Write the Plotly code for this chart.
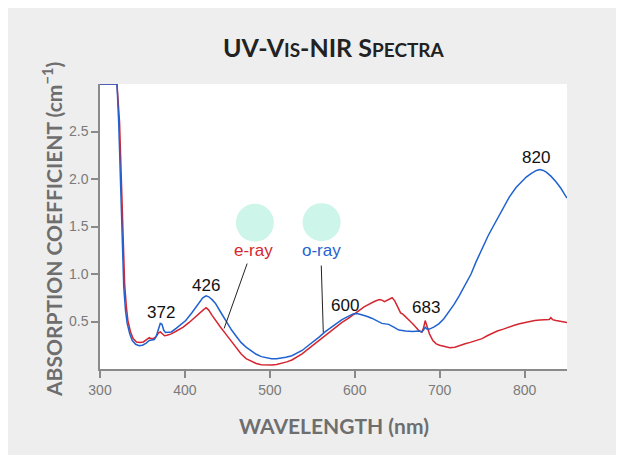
import plotly.graph_objects as go

# ---------------- data ----------------
wl_o = [300, 320, 322, 324, 326, 328, 330, 332, 335, 338, 342, 346, 350, 354, 358, 362, 364, 366,
        369, 371, 373, 375, 377, 380, 384, 390, 396, 401, 408, 416, 421, 425, 428, 432, 436, 442,
        448, 455, 460, 466, 472, 478, 484, 490, 496, 502, 508, 514, 519, 526, 532, 538, 545, 552,
        558, 565, 572, 578, 585, 592, 598, 603, 608, 614, 620, 626, 632, 636, 640, 646, 652, 660,
        668, 676, 679, 681, 683, 685, 688, 693, 699, 705, 711, 717, 723, 730, 737, 743, 750, 757,
        763, 770, 776, 782, 790, 796, 802, 808, 814, 818, 822, 826, 831, 837, 843, 847, 850]
abs_o = [3.0, 3.0, 2.6, 2.0, 1.39, 0.86, 0.62, 0.48, 0.37, 0.30, 0.26, 0.245, 0.25, 0.27, 0.30, 0.31,
         0.31, 0.34, 0.44, 0.48, 0.47, 0.41, 0.385, 0.385, 0.39, 0.43, 0.47, 0.51, 0.59, 0.69, 0.75,
         0.77, 0.76, 0.73, 0.69, 0.60, 0.51, 0.41, 0.35, 0.28, 0.23, 0.19, 0.155, 0.13, 0.115, 0.108,
         0.107, 0.115, 0.124, 0.14, 0.165, 0.195, 0.245, 0.29, 0.335, 0.39, 0.44, 0.476, 0.52, 0.555,
         0.58, 0.585, 0.575, 0.555, 0.535, 0.51, 0.48, 0.475, 0.47, 0.44, 0.41, 0.40, 0.395, 0.40,
         0.39, 0.41, 0.44, 0.42, 0.42, 0.44, 0.475, 0.53, 0.60, 0.68, 0.77, 0.88, 1.00, 1.13, 1.27,
         1.40, 1.50, 1.62, 1.72, 1.81, 1.91, 1.97, 2.02, 2.06, 2.09, 2.10, 2.09, 2.07, 2.03, 1.97,
         1.90, 1.84, 1.80]

wl_e = [300, 320, 323, 325, 327, 329, 331, 333, 336, 339, 343, 347, 351, 355, 358, 360, 363, 366,
        369, 371, 373, 376, 379, 384, 390, 398, 405, 411, 417, 422, 425, 428, 432, 436, 442, 448,
        454, 460, 466, 472, 478, 484, 490, 496, 502, 508, 514, 520, 526, 532, 538, 545, 552, 558,
        565, 572, 578, 585, 592, 598, 605, 611, 617, 623, 629, 632, 635, 638, 641, 644, 647, 650,
        654, 657, 660, 664, 668, 672, 676, 679, 681, 683, 685, 688, 692, 696, 700, 706, 712, 718,
        724, 730, 736, 743, 750, 756, 762, 768, 775, 782, 788, 794, 800, 806, 812, 818, 824, 829,
        831, 833, 837, 843, 850]
abs_e = [3.0, 3.0, 2.6, 2.0, 1.39, 0.90, 0.66, 0.50, 0.39, 0.32, 0.285, 0.28, 0.285, 0.31, 0.33,
         0.32, 0.32, 0.34, 0.38, 0.39, 0.375, 0.35, 0.355, 0.37, 0.40, 0.44, 0.49, 0.54, 0.58, 0.625,
         0.645, 0.62, 0.565, 0.51, 0.44, 0.37, 0.30, 0.23, 0.16, 0.11, 0.08, 0.058, 0.045, 0.04,
         0.042, 0.048, 0.06, 0.075, 0.095, 0.125, 0.16, 0.21, 0.26, 0.30, 0.35, 0.40, 0.44, 0.49,
         0.53, 0.565, 0.615, 0.655, 0.686, 0.71, 0.73, 0.725, 0.71, 0.725, 0.74, 0.75, 0.72, 0.66,
         0.59, 0.575, 0.55, 0.52, 0.48, 0.44, 0.40, 0.39, 0.43, 0.51, 0.45, 0.37, 0.30, 0.265, 0.25,
         0.235, 0.225, 0.23, 0.25, 0.265, 0.28, 0.30, 0.32, 0.35, 0.375, 0.40, 0.42, 0.445, 0.46,
         0.476, 0.49, 0.50, 0.51, 0.515, 0.52, 0.52, 0.54, 0.52, 0.51, 0.50, 0.49]

peak_labels = ["372", "426", "600", "683", "820"]
peak_x = [371.9, 425, 588.9, 684.4, 813]
peak_y = [0.595, 0.879, 0.668, 0.647, 2.226]

x_ticks = [300, 400, 500, 600, 700, 800]
y_ticks = [0.5, 1.0, 1.5, 2.0, 2.5]

BLUE = "#1f62d0"
RED = "#d42630"
MINT = "#cdf5ea"
GRAY_BG = "#eeeeee"

fig = go.Figure()
fig.add_trace(go.Scatter(x=wl_e, y=abs_e, mode="lines", line=dict(color=RED, width=1.5),
                         name="e-ray", showlegend=False))
fig.add_trace(go.Scatter(x=wl_o, y=abs_o, mode="lines", line=dict(color=BLUE, width=1.5),
                         name="o-ray", showlegend=False))

# peak labels
for t, xx, yy in zip(peak_labels, peak_x, peak_y):
    fig.add_annotation(x=xx, y=yy, text=t, showarrow=False,
                       font=dict(family="Liberation Sans, Arial", size=17, color="#111111"))

# ray labels
fig.add_annotation(x=480.4, y=1.247, text="e-ray", showarrow=False,
                   font=dict(family="Liberation Sans, Arial", size=17, color=RED))
fig.add_annotation(x=560.6, y=1.247, text="o-ray", showarrow=False,
                   font=dict(family="Liberation Sans, Arial", size=17, color=BLUE))

# mint circles
for cx, cy in [(482.4, 1.539), (561.0, 1.546)]:
    fig.add_shape(type="circle", xref="x", yref="y", xsizemode="pixel", ysizemode="pixel",
                  xanchor=cx, yanchor=cy, x0=-19, x1=19, y0=-19, y1=19,
                  fillcolor=MINT, line=dict(width=0))

# leader lines
fig.add_shape(type="line", xref="x", yref="y", x0=473.3, y0=1.11, x1=446.2, y1=0.427,
              line=dict(color="#222222", width=1))
fig.add_shape(type="line", xref="x", yref="y", x0=560.6, y0=1.089, x1=563.0, y1=0.384,
              line=dict(color="#222222", width=1))

# titles (positions given in page pixels -> paper coords; plot area is 100..567 x 84..369)
fig.add_annotation(xref="paper", yref="paper", x=0.5, y=(369 - 47) / 285,
                   xanchor="center", yanchor="middle",
                   text="UV-V<span style='font-size:19px'>IS</span>-NIR S<span style='font-size:19px'>PECTRA</span>",
                   showarrow=False, font=dict(family="Lato", size=25, color="#222222", weight="bold"))
fig.add_annotation(xref="paper", yref="paper", x=(52 - 100) / 467, y=(369 - 230) / 285,
                   xanchor="center", yanchor="middle",
                   text="ABSORPTION COEFFICIENT (cm<sup>−1</sup>)", textangle=-90,
                   showarrow=False, font=dict(family="Lato", size=21, color="#6e6e6e", weight="bold"))
fig.add_annotation(xref="paper", yref="paper", x=0.5, y=(369 - 425) / 285,
                   xanchor="center", yanchor="middle",
                   text="WAVELENGTH (nm)", showarrow=False,
                   font=dict(family="Lato", size=21, color="#6e6e6e", weight="bold"))

axis_common = dict(showline=True, linecolor="#8a8a8a", linewidth=1.5, ticks="outside",
                   tickcolor="#8a8a8a", tickwidth=1.5, ticklen=7, showgrid=False, zeroline=False,
                   tickfont=dict(family="Liberation Sans, Arial", size=14, color="#7a7a7a"))

fig.update_xaxes(range=[300, 850], tickvals=x_ticks, ticktext=[str(v) for v in x_ticks],
                 **axis_common)
fig.update_yaxes(range=[0, 3.0], tickvals=y_ticks, ticktext=[f"{v:.1f}" for v in y_ticks],
                 **axis_common)

# page has an 8px body margin; figure sized to fill the rest of the window exactly
fig.update_layout(width=616, height=447, margin=dict(l=92, r=57, t=76, b=86),
                  paper_bgcolor=GRAY_BG, plot_bgcolor="white", showlegend=False)

fig.write_html("out.html")
